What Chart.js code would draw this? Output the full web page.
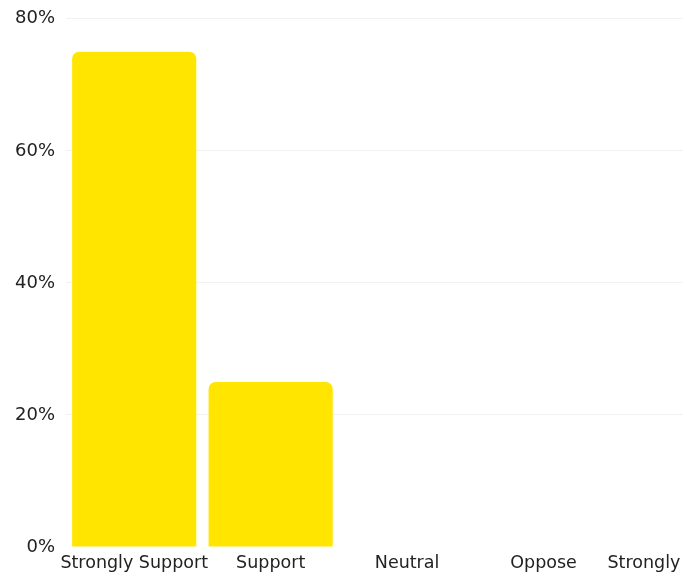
<!DOCTYPE html>
<html>
<head>
<meta charset="utf-8">
<script src="https://cdn.jsdelivr.net/npm/chart.js@4"></script>
<style>
  html, body { margin: 0; padding: 0; background: #fff; }
  #clip { width: 683px; height: 577px; overflow: hidden; }
  #wrap { width: 759px; height: 580px; margin-top: -3px; position: relative; }
</style>
</head>
<body>
<div id="clip"><div id="wrap"><canvas id="myBar"></canvas></div></div>
<script>
var categories = ["Strongly Support", "Support", "Neutral", "Oppose", "Strongly Oppose"];
var shares = [75, 25, 0, 0, 0];
var tickValues = [0, 20, 40, 60, 80];

Chart.defaults.font.family = "'DejaVu Sans', sans-serif";
Chart.defaults.font.size = 17.5;
Chart.defaults.color = "#222";

var myBar = new Chart("myBar", {
    type: "bar",
    data: {
        labels: categories,
        datasets: [{
            data: shares,
            backgroundColor: "#ffe500",
            borderRadius: { topLeft: 7, topRight: 7, bottomLeft: 0, bottomRight: 0 },
            borderSkipped: "bottom",
            barPercentage: 0.91,
            categoryPercentage: 1.0
        }]
    },
    options: {
        responsive: true,
        maintainAspectRatio: false,
        animation: false,
        layout: { padding: { top: 0, right: 5, bottom: 2, left: 0 } },
        plugins: { legend: { display: false }, tooltip: { enabled: false } },
        scales: {
            x: {
                grid: { display: false, drawTicks: false },
                border: { display: false },
                ticks: { autoSkip: false, maxRotation: 0, padding: 6 },
                afterFit: function(axis){ axis.height = 28; }
            },
            y: {
                min: 0,
                max: 80,
                afterBuildTicks: function(axis){
                    axis.ticks = tickValues.map(function(v){ return { value: v }; });
                },
                afterFit: function(axis){ axis.width = 66; },
                grid: {
                    color: function(ctx){ return ctx.tick && ctx.tick.value === 0 ? "rgba(0,0,0,0)" : "#f1f1f1"; },
                    drawTicks: false
                },
                border: { display: false },
                ticks: {
                    padding: 11,
                    font: { size: 18 },
                    callback: function(v){ return v + "%"; }
                }
            }
        }
    }
});
</script>
</body>
</html>
